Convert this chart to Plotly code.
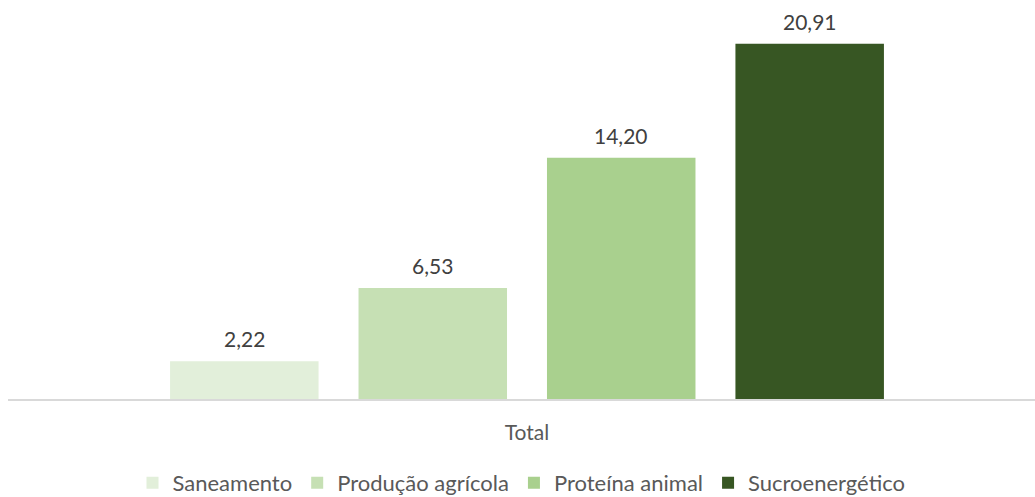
import plotly.graph_objects as go

categories = ["Total"]
series_names = ["Saneamento", "Produção agrícola", "Proteína animal", "Sucroenergético"]
series_values = [2.22, 6.53, 14.20, 20.91]
series_colors = ["#E2EFDA", "#C6E0B4", "#A9D08E", "#375623"]

FONT = "Lato, 'Open Sans', sans-serif"
FS = 21
BARGAP = 0.266
BARGROUPGAP = 0.212

fig = go.Figure()
for name, val, col in zip(series_names, series_values, series_colors):
    fig.add_trace(go.Bar(
        x=categories, y=[val], name=name,
        marker=dict(color=col, line=dict(width=0)),
        cliponaxis=False,
    ))

# data labels placed through the axis scales, above each grouped bar
n = len(series_values)
group_w = 1 - BARGAP
slot = group_w / n
for i, val in enumerate(series_values):
    fig.add_annotation(
        x=-group_w / 2 + slot * (i + 0.5), y=val, xref="x", yref="y",
        text=f"{val:.2f}".replace(".", ","), showarrow=False,
        yanchor="bottom", yshift=8,
        font=dict(family=FONT, size=FS, color="#404040"),
    )

shift = 5.5 / 1027
fig.update_layout(
    width=1035, height=497,
    margin=dict(l=8, r=0, t=10, b=98, autoexpand=False),
    paper_bgcolor="white", plot_bgcolor="white",
    barmode="group", bargap=BARGAP, bargroupgap=BARGROUPGAP,
    font=dict(family=FONT, size=FS, color="#595959"),
    showlegend=True,
    legend=dict(orientation="h", x=0.5, xanchor="center", y=-0.216, yanchor="middle",
                font=dict(family=FONT, size=22, color="#595959"),
                itemwidth=30, traceorder="normal"),
    xaxis=dict(range=[-0.5 - shift, 0.5 - shift], showline=True, linecolor="#D9D9D9",
               linewidth=2, ticks="", ticklabelstandoff=14,
               tickfont=dict(family=FONT, size=FS, color="#595959"),
               showgrid=False, zeroline=False),
    yaxis=dict(range=[0, 22.9], visible=False, showgrid=False, zeroline=False),
)
fig.write_html("out.html")
